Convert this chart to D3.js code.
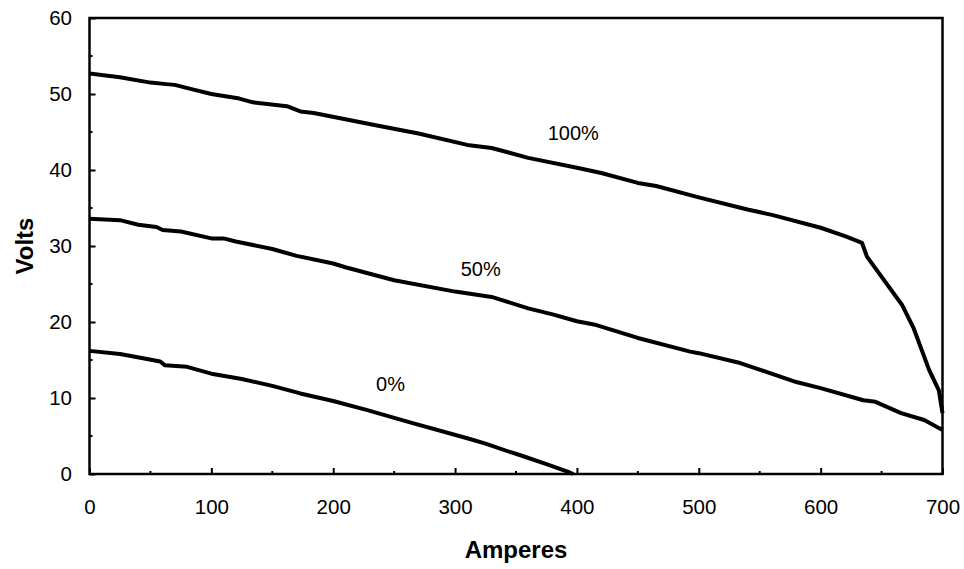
<!DOCTYPE html>
<html lang="en">
<head>
<meta charset="utf-8">
<title>Volts vs Amperes</title>
<script src="https://d3js.org/d3.v7.min.js"></script>
<style>
  body { margin: 0; background: #fff; }
  text { font-family: "Liberation Sans", Arial, Helvetica, sans-serif; fill: #000; }
</style>
</head>
<body>
<script>

// data (amperes, volts)
var amps100  = [0, 25, 50, 63, 70, 82, 100, 123, 134, 162, 173, 184, 238, 270, 310, 330, 360, 400, 420, 450, 465, 500, 540, 560, 600, 620, 634, 638, 667, 676, 689, 697, 700];
var volts100 = [52.7, 52.2, 51.5, 51.3, 51.2, 50.7, 50.0, 49.4, 48.9, 48.4, 47.7, 47.5, 45.8, 44.8, 43.3, 42.9, 41.6, 40.3, 39.6, 38.3, 37.9, 36.4, 34.8, 34.1, 32.4, 31.3, 30.4, 28.6, 22.2, 19.3, 13.7, 11.0, 8.0];

var amps50  = [0, 25, 40, 55, 60, 75, 100, 110, 120, 150, 170, 200, 210, 250, 300, 330, 360, 380, 400, 416, 450, 493, 500, 534, 580, 600, 635, 645, 666, 685, 700];
var volts50 = [33.6, 33.4, 32.8, 32.5, 32.1, 31.9, 31.0, 31.0, 30.6, 29.6, 28.7, 27.7, 27.2, 25.5, 24.0, 23.3, 21.8, 21.0, 20.1, 19.6, 17.9, 16.1, 15.9, 14.6, 12.1, 11.3, 9.7, 9.5, 8.0, 7.1, 5.8];

var amps0  = [0, 25, 45, 58, 62, 80, 100, 125, 150, 173, 200, 228, 263, 310, 325, 345, 353, 375, 394, 397];
var volts0 = [16.2, 15.8, 15.2, 14.8, 14.3, 14.1, 13.2, 12.5, 11.6, 10.6, 9.6, 8.4, 6.8, 4.7, 4.0, 2.9, 2.5, 1.3, 0.2, 0];

var seriesNames = ["100%", "50%", "0%"];
var labelAt = [[397, 44.9], [321, 27.0], [247, 11.9]]; // amps, volts of each series label

var xTicks = [0, 100, 200, 300, 400, 500, 600, 700];
var yTicks = [0, 10, 20, 30, 40, 50, 60];

var width = 964, height = 569;
var margin = {left: 89.5, right: 21.5, top: 18, bottom: 95};

var svg = d3.select("body").append("svg")
    .attr("width", width)
    .attr("height", height);

var x = d3.scaleLinear().domain([0, 700]).range([margin.left, width - margin.right]);
var y = d3.scaleLinear().domain([0, 60]).range([height - margin.bottom, margin.top]);

// minor ticks (inward)
var g = svg.append("g");
g.selectAll(".xminor").data(d3.range(50, 700, 100)).enter().append("line")
    .attr("x1", function(d) { return x(d); }).attr("x2", function(d) { return x(d); })
    .attr("y1", y(0)).attr("y2", y(0) - 3)
    .attr("stroke", "#000").attr("stroke-width", 2);
g.selectAll(".yminor").data(d3.range(5, 60, 10)).enter().append("line")
    .attr("x1", x(0)).attr("x2", x(0) + 3)
    .attr("y1", function(d) { return y(d); }).attr("y2", function(d) { return y(d); })
    .attr("stroke", "#000").attr("stroke-width", 2);

// axes with inward major ticks
var xAxis = svg.append("g")
    .attr("transform", "translate(0," + y(0) + ")")
    .call(d3.axisBottom(x).tickValues(xTicks).tickSizeInner(-6).tickSizeOuter(0).tickPadding(25));
var yAxis = svg.append("g")
    .attr("transform", "translate(" + x(0) + ",0)")
    .call(d3.axisLeft(y).tickValues(yTicks).tickSizeInner(-6).tickSizeOuter(0).tickPadding(17.5));

[xAxis, yAxis].forEach(function(a) {
  a.selectAll("path").remove();
  a.selectAll("line").attr("stroke", "#000").attr("stroke-width", 2);
  a.selectAll("text").style("font-size", "20.5px").attr("font-family", null);
});

// frame
svg.append("rect")
    .attr("x", x(0)).attr("y", y(60))
    .attr("width", x(700) - x(0)).attr("height", y(0) - y(60))
    .attr("fill", "none").attr("stroke", "#000").attr("stroke-width", 2.5);

// curves
var line = d3.line()
    .x(function(d) { return x(d[0]); })
    .y(function(d) { return y(d[1]); });

var series = [d3.zip(amps100, volts100), d3.zip(amps50, volts50), d3.zip(amps0, volts0)];

svg.selectAll(".curve").data(series).enter().append("path")
    .attr("class", "curve")
    .attr("d", line)
    .attr("fill", "none")
    .attr("stroke", "#000")
    .attr("stroke-width", 4)
    .attr("stroke-linejoin", "round");

svg.selectAll(".lbl").data(seriesNames).enter().append("text")
    .attr("x", function(d, i) { return x(labelAt[i][0]); })
    .attr("y", function(d, i) { return y(labelAt[i][1]); })
    .attr("text-anchor", "middle")
    .attr("dy", "0.35em")
    .style("font-size", "20px")
    .text(function(d) { return d; });

// axis titles
svg.append("text")
    .attr("x", (x(0) + x(700)) / 2)
    .attr("y", 558)
    .attr("text-anchor", "middle")
    .style("font-size", "24px")
    .style("font-weight", "bold")
    .text("Amperes");

svg.append("text")
    .attr("transform", "translate(33," + ((y(0) + y(60)) / 2) + ") rotate(-90)")
    .attr("text-anchor", "middle")
    .style("font-size", "24px")
    .style("font-weight", "bold")
    .text("Volts");

</script>
</body>
</html>
